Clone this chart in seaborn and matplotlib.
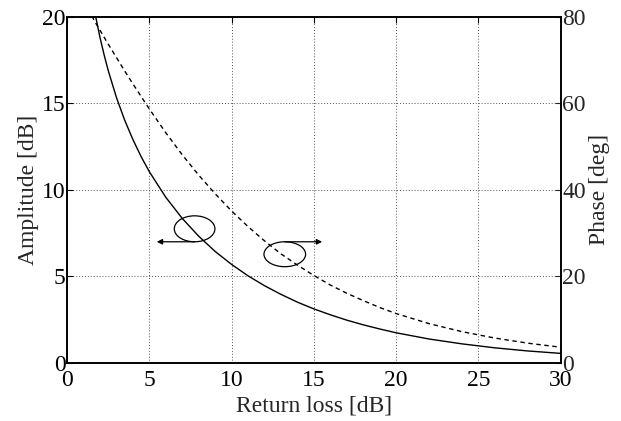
import matplotlib
matplotlib.use("Agg")
import matplotlib.pyplot as plt
from matplotlib.patches import Ellipse
import seaborn as sns
import pandas as pd

# Data
return_loss = [1.5, 1.75, 2.0, 2.25, 2.5, 3.0, 3.5, 4.0, 4.5, 5.0, 6.0, 7.0, 8.0, 9.0, 10.0,
               11.0, 12.0, 13.0, 14.0, 15.0, 16.0, 17.0, 18.0, 19.0, 20.0, 22.0, 24.0,
               26.0, 28.0, 30.0]
amplitude_db = [21.3, 19.96, 18.81, 17.81, 16.90, 15.34, 14.03, 12.91, 11.92, 11.05, 9.57,
                8.35, 7.32, 6.44, 5.69, 5.03, 4.46, 3.96, 3.51, 3.12, 2.78, 2.47, 2.20,
                1.96, 1.74, 1.38, 1.10, 0.87, 0.69, 0.55]
phase_deg = [80.2, 78.5, 76.9, 75.3, 73.7, 70.6, 67.5, 64.5, 61.6, 58.7, 53.2, 48.1, 43.4,
             39.1, 35.1, 31.5, 28.2, 25.2, 22.6, 20.2, 18.0, 16.1, 14.4, 12.8, 11.4, 9.08,
             7.22, 5.74, 4.56, 3.62]

x_ticks = [0, 5, 10, 15, 20, 25, 30]
amp_ticks = [0, 5, 10, 15, 20]
phase_ticks = [0, 20, 40, 60, 80]

df = pd.DataFrame({"rl": return_loss, "amp": amplitude_db, "phase": phase_deg})

sns.set_theme(style="white")
plt.rcParams["font.family"] = ["Liberation Serif", "DejaVu Serif"]
plt.rcParams["mathtext.fontset"] = "stix"

fig = plt.figure(figsize=(6.21, 4.21), dpi=100)
ax = fig.add_axes([0.108, 0.138, 0.795, 0.822])
ax2 = ax.twinx()

sns.lineplot(data=df, x="rl", y="amp", ax=ax, color="black", linewidth=1.0)
sns.lineplot(data=df, x="rl", y="phase", ax=ax2, color="black", linewidth=1.0,
             linestyle=(0, (3.2, 2.6)))

ax.set_xlim(0, 30)
ax.set_ylim(0, 20)
ax2.set_ylim(0, 80)
ax.set_xticks(x_ticks)
ax.set_yticks(amp_ticks)
ax2.set_yticks(phase_ticks)

fs = 17
ax.set_xlabel("Return loss [dB]", fontsize=fs, labelpad=3)
ax.set_ylabel("Amplitude [dB]", fontsize=fs, labelpad=2)
ax2.set_ylabel("Phase [deg]", fontsize=fs, labelpad=2)

ax.grid(True, linestyle=(0, (1, 2)), color="#555555", linewidth=0.7)
ax.set_axisbelow(True)

ax.tick_params(axis="both", direction="in", length=4, width=0.8, labelsize=fs,
               top=True, colors="black", pad=1)
ax.tick_params(axis="x", pad=5)
ax.tick_params(axis="y", right=False)
ax2.tick_params(axis="y", direction="in", length=4, width=0.8, labelsize=fs, pad=1)

for a in (ax, ax2):
    for s in a.spines.values():
        s.set_color("black")
        s.set_linewidth(1.2)

# Annotation ellipses and arrows
ax.add_patch(Ellipse((7.75, 7.75), 2.47, 1.5, fill=False, edgecolor="black", linewidth=0.9))
ax.add_patch(Ellipse((13.23, 6.28), 2.53, 1.44, fill=False, edgecolor="black", linewidth=0.9))
ax.annotate("", xy=(5.45, 7.0), xytext=(7.75, 7.0),
            arrowprops=dict(arrowstyle="-|>", color="black", lw=0.9,
                            mutation_scale=8, shrinkA=0, shrinkB=0))
ax.annotate("", xy=(15.5, 7.0), xytext=(13.23, 7.0),
            arrowprops=dict(arrowstyle="-|>", color="black", lw=0.9,
                            mutation_scale=8, shrinkA=0, shrinkB=0))

fig.savefig("out.png", dpi=100)
